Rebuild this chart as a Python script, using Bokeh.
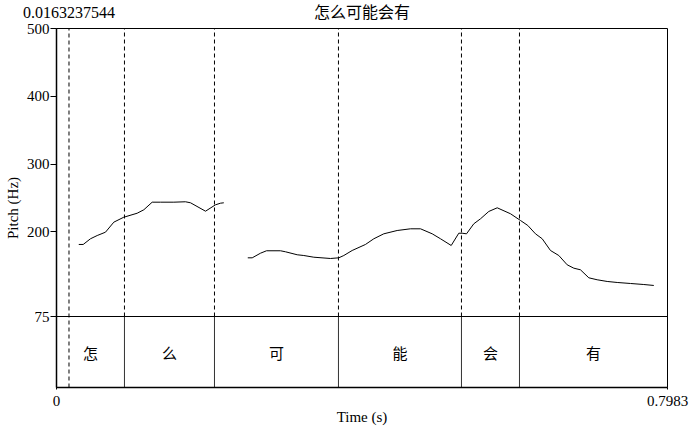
from bokeh.plotting import figure
from bokeh.models import Range1d, FixedTicker, Label, Span, LinearAxis
from bokeh.embed import file_html
from bokeh.resources import INLINE

# ---- data ----
title_text = "怎么可能会有"
cursor_time = 0.0163237544
cursor_text = "0.0163237544"
t_end = 0.7983
pitch_min, pitch_max = 75, 500
y_ticks = [75, 200, 300, 400, 500]

seg1_t = [0.0291, 0.0349, 0.0444, 0.0532, 0.0640, 0.0749, 0.0879, 0.1054, 0.1141,
          0.1250, 0.1359, 0.1533, 0.1685, 0.1751, 0.1947, 0.2077, 0.2143, 0.2186]
seg1_hz = [181.3, 181.3, 189.7, 194.5, 199.4, 214.2, 221.5, 227.4, 232.5,
           243.7, 243.7, 243.7, 244.3, 242.8, 230.4, 239.8, 242.2, 242.8]

seg2_t = [0.2499, 0.2557, 0.2665, 0.2744, 0.2927, 0.2992, 0.3145, 0.3231, 0.3362,
          0.3580, 0.3688, 0.3754, 0.3863, 0.4037, 0.4146, 0.4276, 0.4451, 0.4625,
          0.4756, 0.4909, 0.5017, 0.5157, 0.5256, 0.5300, 0.5357, 0.5452, 0.5540,
          0.5648, 0.5758, 0.5932, 0.6062, 0.6158, 0.6258, 0.6346, 0.6454, 0.6563,
          0.6672, 0.6759, 0.6846, 0.6955, 0.7064, 0.7195, 0.7326, 0.7500, 0.7673,
          0.7804]
seg2_hz = [161.6, 161.6, 168.4, 172.0, 172.0, 170.5, 166.1, 165.0, 162.5,
           160.6, 161.6, 165.0, 172.4, 181.3, 189.7, 197.0, 201.9, 204.4,
           204.4, 197.0, 189.7, 179.8, 197.9, 197.9, 197.0, 211.8, 219.2,
           230.0, 235.4, 226.6, 216.7, 209.3, 197.0, 189.7, 172.4, 165.0,
           151.3, 146.3, 143.9, 132.1, 129.2, 126.7, 125.2, 123.7, 122.2,
           120.8]

boundaries = [0.0888, 0.2064, 0.3684, 0.5291, 0.6049]
tier_labels = ["怎", "么", "可", "能", "会", "有"]

# ---- layout ----
W, H = 690, 431
left, right, top, bottom = 56, 23, 28, 44
frame_h = H - top - bottom
tier_px = 71
hz_per_px = (pitch_max - pitch_min) / (frame_h - tier_px)
y_bottom = pitch_min - tier_px * hz_per_px

serif = "Liberation Serif"
cjk = "Noto Sans CJK SC"
mixed = "'Liberation Serif', 'Noto Sans CJK SC'"

p = figure(width=W, height=H, output_backend="svg", toolbar_location=None,
           x_range=Range1d(0, t_end), y_range=Range1d(y_bottom, pitch_max),
           min_border_left=left, min_border_right=right,
           min_border_top=top, min_border_bottom=bottom)
p.grid.visible = False
p.outline_line_color = "black"
p.outline_line_width = 1
p.background_fill_color = "white"
p.border_fill_color = "white"

# left axis
p.yaxis.ticker = FixedTicker(ticks=y_ticks)
p.yaxis.major_tick_out = 6
p.yaxis.major_tick_in = 0
p.yaxis.minor_tick_out = 0
p.yaxis.minor_tick_in = 0
p.yaxis.major_label_standoff = 1
p.yaxis.major_label_text_font = serif
p.yaxis.major_label_text_font_size = "15px"
p.yaxis.major_label_text_color = "black"
p.yaxis.axis_line_color = "black"
p.yaxis.axis_line_width = 1.5
p.yaxis.axis_label = "Pitch (Hz)"
p.yaxis.axis_label_text_font = serif
p.yaxis.axis_label_text_font_size = "15px"
p.yaxis.axis_label_text_font_style = "normal"
p.yaxis.axis_label_text_color = "black"
p.yaxis.axis_label_standoff = 3

# bottom axis
p.xaxis.ticker = FixedTicker(ticks=[0, t_end])
p.xaxis.major_label_overrides = {0: "0", t_end: "0.7983"}
p.xaxis.major_tick_out = 2
p.xaxis.major_tick_in = 0
p.xaxis.minor_tick_out = 0
p.xaxis.minor_tick_in = 0
p.xaxis.major_label_standoff = 6
p.xaxis.major_label_text_font = serif
p.xaxis.major_label_text_font_size = "15px"
p.xaxis.major_label_text_color = "black"
p.xaxis.axis_line_color = "black"
p.xaxis.axis_line_width = 1.5
p.xaxis.axis_label = "Time (s)"
p.xaxis.axis_label_text_font = serif
p.xaxis.axis_label_text_font_size = "15px"
p.xaxis.axis_label_text_font_style = "normal"
p.xaxis.axis_label_text_color = "black"
p.xaxis.axis_label_standoff = 0

# top axis carrying the cursor time and the title
top_axis = LinearAxis(ticker=FixedTicker(ticks=[cursor_time, t_end / 2]),
                      major_label_overrides={cursor_time: cursor_text, t_end / 2: title_text},
                      axis_line_color=None, major_tick_out=0, major_tick_in=0,
                      minor_tick_out=0, minor_tick_in=0, major_label_standoff=8,
                      major_label_text_font=mixed, major_label_text_font_size="16px",
                      major_label_text_color="black")
p.add_layout(top_axis, "above")

# tier separator
p.add_layout(Span(location=pitch_min, dimension="width", line_color="black", line_width=1))

# boundaries: dashed in pitch area, solid in tier
for b in boundaries:
    p.segment(x0=[b], y0=[pitch_min], x1=[b], y1=[pitch_max], line_color="black",
              line_width=1, line_dash="4 3")
    p.segment(x0=[b], y0=[y_bottom], x1=[b], y1=[pitch_min], line_color="#333333",
              line_width=1)

# cursor
p.segment(x0=[cursor_time], y0=[y_bottom], x1=[cursor_time], y1=[pitch_max],
          line_color="black", line_width=1, line_dash="4 3")

# pitch contour
p.line(seg1_t, seg1_hz, line_color="black", line_width=1)
p.line(seg2_t, seg2_hz, line_color="black", line_width=1)

# tier labels
edges = [0] + boundaries + [t_end]
tier_y = (pitch_min + y_bottom) / 2
for i, lab in enumerate(tier_labels):
    p.add_layout(Label(x=(edges[i] + edges[i + 1]) / 2, y=tier_y, text=lab,
                       text_font=cjk, text_font_size="15px", text_align="center",
                       text_baseline="middle", text_color="black"))

open("out.html", "w").write(file_html(p, INLINE))
